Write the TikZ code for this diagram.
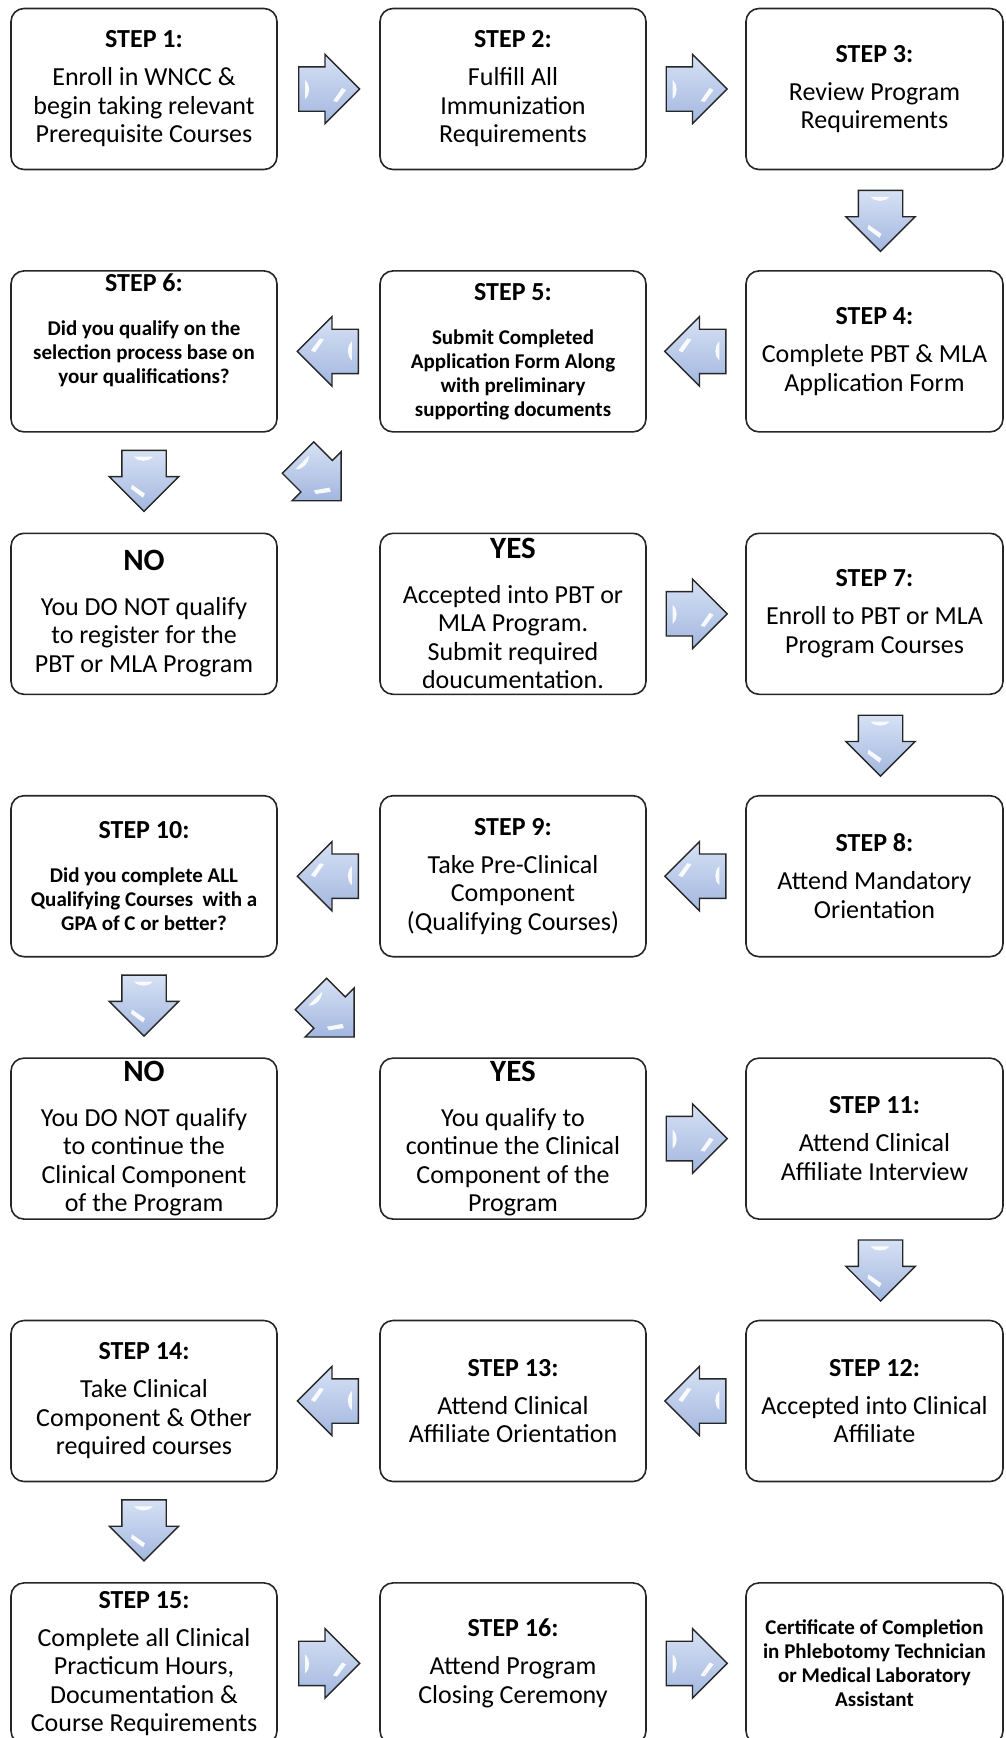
\documentclass[tikz,border=0pt]{standalone}
\usepackage{fontspec}
\setmainfont{Carlito}
\usetikzlibrary{shapes.arrows,calc,positioning}
\definecolor{arrowtop}{HTML}{D6E1F4}
\definecolor{arrowbottom}{HTML}{A2B6DF}
\definecolor{edgegray}{HTML}{262626}
\newcommand{\bodysize}{\fontsize{26}{28.5}\selectfont}
\newcommand{\smallbold}{\fontsize{21}{24}\selectfont\bfseries}
\newcommand{\steptitle}[1]{{\bfseries #1}\\[9.5pt]}
\newcommand{\bigtitle}[1]{{\fontsize{26}{28.5}\selectfont #1}\\[20pt]}
\newcommand{\answer}[1]{{\fontsize{31}{34}\selectfont\bfseries #1}\\[16pt]}

\begin{document}
\begin{tikzpicture}[x=1pt,y=-1pt,
    stepbox/.style={draw=edgegray, line width=1.6pt, rounded corners=13pt,
        minimum width=266pt, minimum height=161pt, inner sep=0pt,
        align=center, font=\bodysize},
    narrowbox/.style={stepbox, minimum width=257pt},
    smalltext/.style={font=\smallbold},
    blockarrow/.style={single arrow, draw=edgegray, line width=1.4pt,
        top color=arrowtop, bottom color=arrowbottom,
        minimum height=61pt, single arrow head extend=12.5pt,
        inner xsep=0pt, inner ysep=21.5pt, anchor=tail,
        path picture={
            \begin{scope}[shift={(path picture bounding box.center)}]
                \fill[white, opacity=0.9] (-13,-9) .. controls (-7.5,-4)
                    and (-7.5,5) .. (-13,10) -- cycle;
                \fill[white, opacity=0.9] (15,12) -- (24,-1) -- (28,1) -- (19,13) -- cycle;
            \end{scope}
        }}]
    \useasboundingbox (0,0) rectangle (1006,1738);
    \clip (0,0) rectangle (1006,1738);

    % Row 1
    \node[stepbox] (s1) at (144,89) {\steptitle{STEP 1:}Enroll in WNCC \&\\begin taking relevant\\Prerequisite Courses};
    \node[stepbox] (s2) at (513,89) {\steptitle{STEP 2:}Fulfill All\\Immunization\\Requirements};
    \node[narrowbox] (s3) at (874.5,89) {\steptitle{STEP 3:}Review Program\\Requirements};

    % Row 2
    \node[narrowbox] (s4) at (874.5,351.4) {\steptitle{STEP 4:}Complete PBT \& MLA\\Application Form};
    \node[stepbox, smalltext] (s5) at (513,351.4) {\bigtitle{STEP 5:}Submit Completed\\Application Form Along\\with preliminary\\supporting documents};
    \node[stepbox, smalltext] (s6) at (144,351.4) {\bigtitle{STEP 6:}Did you qualify on the\\selection process base on\\your qualifications?\\[22pt]\mbox{}};

    % Row 3
    \node[stepbox] (no1) at (144,613.8) {\answer{NO}You DO NOT qualify\\to register for the\\PBT or MLA Program};
    \node[stepbox] (yes1) at (513,613.8) {\answer{YES}Accepted into PBT or\\MLA Program.\\Submit required\\doucumentation.};
    \node[narrowbox] (s7) at (874.5,613.8) {\steptitle{STEP 7:}Enroll to PBT or MLA\\Program Courses};

    % Row 4
    \node[narrowbox] (s8) at (874.5,876.2) {\steptitle{STEP 8:}Attend Mandatory\\Orientation};
    \node[stepbox] (s9) at (513,876.2) {\steptitle{STEP 9:}Take Pre-Clinical\\Component\\(Qualifying Courses)};
    \node[stepbox, smalltext] (s10) at (144,876.2) {\bigtitle{STEP 10:}Did you complete ALL\\Qualifying Courses~ with a\\GPA of C or better?};

    % Row 5
    \node[stepbox] (no2) at (144,1138.6) {\answer{NO}You DO NOT qualify\\to continue the\\Clinical Component\\of the Program};
    \node[stepbox] (yes2) at (513,1138.6) {\answer{YES}You qualify to\\continue the Clinical\\Component of the\\Program};
    \node[narrowbox] (s11) at (874.5,1138.6) {\steptitle{STEP 11:}Attend Clinical\\Affiliate Interview};

    % Row 6
    \node[narrowbox] (s12) at (874.5,1401) {\steptitle{STEP 12:}Accepted into Clinical\\Affiliate};
    \node[stepbox] (s13) at (513,1401) {\steptitle{STEP 13:}Attend Clinical\\Affiliate Orientation};
    \node[stepbox] (s14) at (144,1401) {\steptitle{STEP 14:}Take Clinical\\Component \& Other\\required courses};

    % Row 7
    \node[stepbox] (s15) at (144,1663.4) {\steptitle{STEP 15:}Complete all Clinical\\Practicum Hours,\\Documentation \&\\Course Requirements};
    \node[stepbox] (s16) at (513,1663.4) {\steptitle{STEP 16:}Attend Program\\Closing Ceremony};
    \node[narrowbox, smalltext] (cert) at (874.5,1663.4) {Certificate of Completion\\in Phlebotomy Technician\\or Medical Laboratory\\Assistant};

    % Block arrows (tail placed half a length before the gap centre)
    \node[blockarrow] (a12) at ($(s1.east)!0.5!(s2.west)+(-30.5,0)$) {};
    \node[blockarrow] (a23) at ($(s2.east)!0.5!(s3.west)+(-30.5,0)$) {};
    \node[blockarrow, rotate=-90] (a34) at ($(s3.south)!0.5!(s4.north)+(6,-30.5)$) {};
    \node[blockarrow, rotate=180] (a45) at ($(s4.west)!0.5!(s5.east)+(30.5,0)$) {};
    \node[blockarrow, rotate=180] (a56) at ($(s5.west)!0.5!(s6.east)+(30.5,0)$) {};
    \node[blockarrow, rotate=-90] (a6n) at ($(s6.south)!0.5!(no1.north)+(0,-33)$) {};
    \node[blockarrow, rotate=-45] (a6y) at ($(s6.south east)!0.5!(yes1.north west)+(-31,-25.5)$) {};
    \node[blockarrow] (ay7) at ($(yes1.east)!0.5!(s7.west)+(-30.5,0)$) {};
    \node[blockarrow, rotate=-90] (a78) at ($(s7.south)!0.5!(s8.north)+(6,-30.5)$) {};
    \node[blockarrow, rotate=180] (a89) at ($(s8.west)!0.5!(s9.east)+(30.5,0)$) {};
    \node[blockarrow, rotate=180] (a910) at ($(s9.west)!0.5!(s10.east)+(30.5,0)$) {};
    \node[blockarrow, rotate=-90] (a10n) at ($(s10.south)!0.5!(no2.north)+(0,-33)$) {};
    \node[blockarrow, rotate=-45] (a10y) at ($(s10.south east)!0.5!(yes2.north west)+(-18,-14)$) {};
    \node[blockarrow] (ay11) at ($(yes2.east)!0.5!(s11.west)+(-30.5,0)$) {};
    \node[blockarrow, rotate=-90] (a1112) at ($(s11.south)!0.5!(s12.north)+(6,-30.5)$) {};
    \node[blockarrow, rotate=180] (a1213) at ($(s12.west)!0.5!(s13.east)+(30.5,0)$) {};
    \node[blockarrow, rotate=180] (a1314) at ($(s13.west)!0.5!(s14.east)+(30.5,0)$) {};
    \node[blockarrow, rotate=-90] (a1415) at ($(s14.south)!0.5!(s15.north)+(0,-33)$) {};
    \node[blockarrow] (a1516) at ($(s15.east)!0.5!(s16.west)+(-30.5,0)$) {};
    \node[blockarrow] (a16c) at ($(s16.east)!0.5!(cert.west)+(-30.5,0)$) {};
\end{tikzpicture}
\end{document}
